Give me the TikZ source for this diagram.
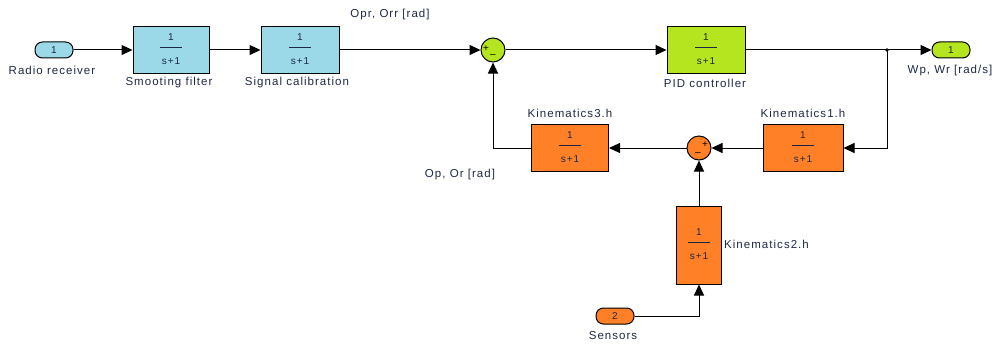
\documentclass[tikz,border=0pt]{standalone}
\usepackage{fontspec}
\setmainfont{Liberation Sans}[LetterSpace=9]
\usetikzlibrary{arrows.meta}

\definecolor{blkblue}{RGB}{155,217,232}
\definecolor{blkgreen}{RGB}{180,229,30}
\definecolor{blkorange}{RGB}{255,128,38}
\definecolor{lbltext}{RGB}{30,40,70}

% transfer function 1/(s+1) printed inside every block
\newcommand\xferfn{{\fontsize{10}{12}\selectfont
  \begin{tabular}{@{}c@{}}1\\\rule[5pt]{22pt}{0.9pt}\\s+1\end{tabular}}}

\tikzset{
  blk/.style={draw=black, line width=1pt, inner sep=0pt, text=lbltext,
              minimum width=#1},
  blk/.default=77pt,
  portpill/.style={draw=black, line width=1pt, rounded corners=7.5pt,
              inner sep=0pt, minimum width=38pt, minimum height=16pt,
              text=lbltext, font=\fontsize{10}{10}\selectfont},
  sumnode/.style={circle, draw=black, line width=1pt, minimum size=24pt,
              inner sep=0pt},
  sgn/.style={inner sep=0pt, font=\fontsize{10}{10}\selectfont},
  lbl/.style={inner sep=0pt, text=lbltext, font=\fontsize{11.5}{13}\selectfont},
  wire/.style={draw=black, line width=1pt,
              -{Triangle[length=11pt,width=10pt]}},
}

\begin{document}
\begin{tikzpicture}[x=1pt,y=-1pt]
\useasboundingbox (0,0) rectangle (992,345);

% forward path
\node[portpill, fill=blkblue] (in1) at (54,50) {1};
\node[lbl] (in1l) at (52,70) {Radio receiver};

\node[blk=76pt, minimum height=46pt, fill=blkblue] (sf) at (171,50) {\xferfn};
\node[lbl] (sfl) at (169,83) {Smooting filter};

\node[blk=78pt, minimum height=46pt, fill=blkblue] (sc) at (300,50) {\xferfn};
\node[lbl] (scl) at (297,83) {Signal calibration};

\node[lbl] (oprl) at (390,15) {Opr, Orr [rad]};

\node[sumnode, fill=blkgreen] (s1) at (493,50) {};
\node[sgn] (s1p) at (486,49) {+};
\node[sgn] (s1m) at (493,56) {--};

\node[blk=78pt, minimum height=46pt, fill=blkgreen] (pid) at (706,50) {\xferfn};
\node[lbl] (pidl) at (705,83) {PID controller};

\coordinate (jn) at (887,50);
\fill (jn) circle (1.8pt);

\node[portpill, fill=blkgreen] (out1) at (951,50) {1};
\node[lbl] (out1l) at (950,71) {Wp, Wr [rad/s]};

% feedback path
\node[blk=80pt, minimum height=47pt, fill=blkorange] (k1) at (803,148) {\xferfn};
\node[lbl] (k1l) at (803,113) {Kinematics1.h};

\node[sumnode, fill=blkorange] (s2) at (699,148) {};
\node[sgn] (s2p) at (705,145) {+};
\node[sgn] (s2m) at (698,154) {--};

\node[blk=77pt, minimum height=47pt, fill=blkorange] (k3) at (570,148) {\xferfn};
\node[lbl] (k3l) at (570,113) {Kinematics3.h};

\node[lbl] (opl) at (460,175) {Op, Or [rad]};

\node[blk=45pt, minimum height=78pt, fill=blkorange] (k2) at (699,245) {\xferfn};
\node[lbl, anchor=west] (k2l) at (724,244) {Kinematics2.h};

\node[portpill, fill=blkorange] (in2) at (615,316) {2};
\node[lbl] (in2l) at (613,336) {Sensors};

% connections
\draw[wire] (in1.east) -- (sf.west);
\draw[wire] (sf.east) -- (sc.west);
\draw[wire] (sc.east) -- (s1.west);
\draw[wire] (s1.east) -- (pid.west);
\draw[wire] (pid.east) -- (out1.west);
\draw[wire] (jn) |- (k1.east);
\draw[wire] (k1.west) -- (s2.east);
\draw[wire] (s2.west) -- (k3.east);
\draw[wire] (k3.west) -| (s1.south);
\draw[wire] (k2.north) -- (s2.south);
\draw[wire] (in2.east) -| (k2.south);
\end{tikzpicture}
\end{document}
